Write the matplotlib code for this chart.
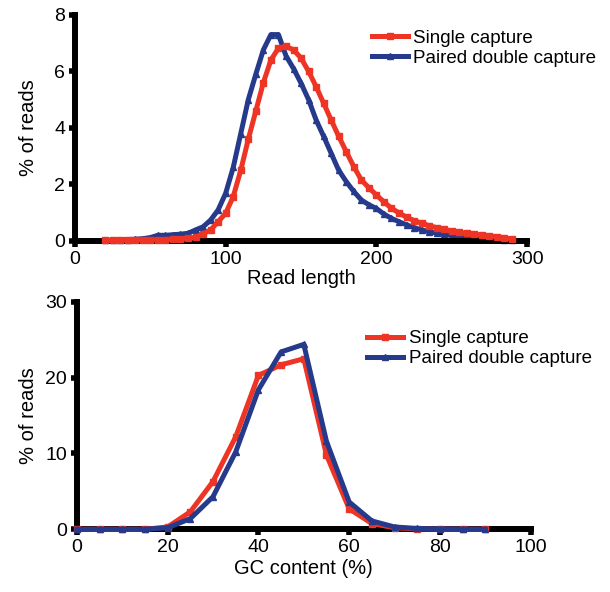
import matplotlib.pyplot as plt
import numpy as np

plt.rcParams['font.family'] = ['Liberation Sans', 'DejaVu Sans']

RED = '#ee3424'
BLUE = '#263a8c'

# Read length distribution (top panel)
read_len = list(range(20, 295, 5))
single_len = [0.02, 0.02, 0.02, 0.03, 0.03, 0.03, 0.04, 0.04, 0.05, 0.06,
              0.07, 0.09, 0.13, 0.25, 0.39, 0.68, 0.98, 1.57, 2.5, 3.6,
              4.6, 5.6, 6.4, 6.82, 6.88, 6.76, 6.47, 6.0, 5.46, 4.87,
              4.28, 3.7, 3.16, 2.63, 2.16, 1.88, 1.63, 1.38, 1.16, 0.99,
              0.84, 0.72, 0.63, 0.54, 0.47, 0.41, 0.35, 0.31, 0.27, 0.24,
              0.21, 0.18, 0.15, 0.11, 0.06]
paired_len = [0.02, 0.03, 0.04, 0.05, 0.06, 0.08, 0.12, 0.2, 0.2, 0.22,
              0.24, 0.27, 0.39, 0.5, 0.74, 1.1, 1.69, 2.6, 3.8, 5.0,
              5.9, 6.76, 7.3, 7.3, 6.55, 6.1, 5.58, 5.0, 4.28, 3.7,
              3.1, 2.5, 2.1, 1.75, 1.45, 1.28, 1.15, 0.95, 0.8, 0.68,
              0.57, 0.47, 0.39, 0.33, 0.27, 0.23, 0.19, 0.16, 0.13, 0.11,
              0.09, 0.07, 0.06, 0.05, 0.04]

# GC content distribution (bottom panel)
gc = list(range(0, 95, 5))
single_gc = [0.0, 0.0, 0.0, 0.0, 0.3, 2.3, 6.3, 12.2, 20.3, 21.7,
             22.5, 9.8, 2.7, 0.75, 0.2, 0.05, 0.02, 0.01, 0.0]
paired_gc = [0.0, 0.0, 0.0, 0.0, 0.2, 1.4, 4.3, 10.2, 18.4, 23.4,
             24.4, 11.6, 3.6, 1.1, 0.3, 0.1, 0.05, 0.02, 0.0]

labels = ['Single capture', 'Paired double capture']

fig = plt.figure(figsize=(6.10, 5.92), dpi=100)
ax1 = fig.add_axes([0.123, 0.593, 0.741, 0.382])
ax2 = fig.add_axes([0.126, 0.106, 0.744, 0.384])


def style(ax):
    for s in ['top', 'right']:
        ax.spines[s].set_visible(False)
    for s in ['left', 'bottom']:
        ax.spines[s].set_linewidth(4.3)
        ax.spines[s].set_capstyle('projecting')
    ax.tick_params(width=4, length=4, labelsize=14, direction='out', pad=3)


ax1.plot(read_len, single_len, color=RED, lw=3.6, marker='s', ms=4.5,
         label=labels[0], clip_on=False, zorder=3)
ax1.plot(read_len, paired_len, color=BLUE, lw=3.6, marker='^', ms=4,
         label=labels[1], clip_on=False, zorder=2)
ax1.set_xlim(0, 300)
ax1.set_ylim(0, 8)
ax1.set_xticks([0, 100, 200, 300])
ax1.set_yticks([0, 2, 4, 6, 8])
ax1.set_xlabel('Read length', fontsize=14.5, labelpad=1)
ax1.set_ylabel('% of reads', fontsize=14.5, labelpad=12)
style(ax1)
ax1.legend(loc='upper left', bbox_to_anchor=(0.657, 0.935), frameon=False,
           fontsize=13.5, handlelength=1.9, handletextpad=0.3,
           borderpad=0, borderaxespad=0, labelspacing=0.15)

ax2.plot(gc, single_gc, color=RED, lw=3.6, marker='s', ms=4.5,
         label=labels[0], clip_on=False, zorder=3)
ax2.plot(gc, paired_gc, color=BLUE, lw=3.6, marker='^', ms=4,
         label=labels[1], clip_on=False, zorder=4)
ax2.set_xlim(0, 100)
ax2.set_ylim(0, 30)
ax2.set_xticks([0, 20, 40, 60, 80, 100])
ax2.set_yticks([0, 10, 20, 30])
ax2.set_xlabel('GC content (%)', fontsize=14.5, labelpad=2)
ax2.set_ylabel('% of reads', fontsize=14.5, labelpad=5)
style(ax2)
ax2.legend(loc='upper left', bbox_to_anchor=(0.64, 0.875), frameon=False,
           fontsize=13.5, handlelength=1.9, handletextpad=0.3,
           borderpad=0, borderaxespad=0, labelspacing=0.15)

fig.savefig('out.png', dpi=100)
